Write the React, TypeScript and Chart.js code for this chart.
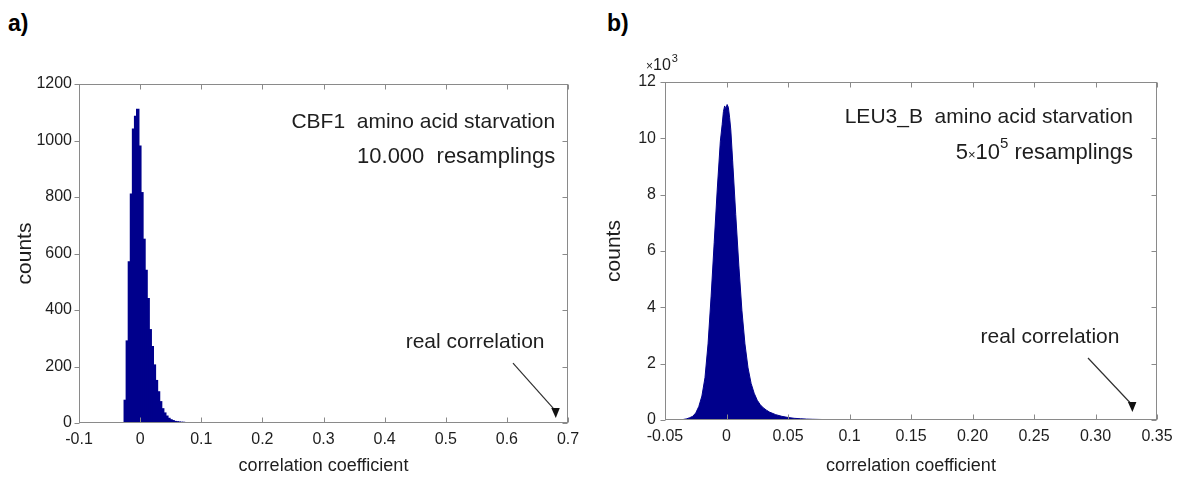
import React, { useEffect, useRef } from 'react';
import { Chart, registerables } from 'chart.js';

Chart.register(...registerables);

// ---------- Panel a) CBF1 ----------
const aBinCenters = [
  -0.0243, -0.0209, -0.0175, -0.0141, -0.0107, -0.0073, -0.0039, -0.0005, 0.0029, 0.0063,
  0.0097, 0.0131, 0.0165, 0.0199, 0.0233, 0.0267, 0.0301, 0.0335, 0.0369, 0.0403,
  0.0437, 0.0471, 0.0505, 0.0539, 0.0573, 0.0607, 0.0641, 0.0675, 0.0709, 0.0743,
  0.0777, 0.0879, 0.0981,
];
const aCounts = [
  80, 290, 570, 810, 1040, 1085, 1110, 980, 815, 650,
  540, 440, 330, 270, 205, 150, 110, 75, 50, 35,
  24, 16, 11, 8, 5, 4, 3, 2, 2, 1,
  1, 1, 1,
];
const aXTicks = [-0.1, 0, 0.1, 0.2, 0.3, 0.4, 0.5, 0.6, 0.7];
const aXTickLabels = ['-0.1', '0', '0.1', '0.2', '0.3', '0.4', '0.5', '0.6', '0.7'];
const aYTicks = [0, 200, 400, 600, 800, 1000, 1200];
const aYTickLabels = ['0', '200', '400', '600', '800', '1000', '1200'];
const aRealCorrelation = 0.68;

// ---------- Panel b) LEU3_B ----------
const bX = [
  -0.038, -0.035, -0.0325, -0.03, -0.0275, -0.025, -0.0225, -0.02, -0.0175, -0.015,
  -0.0125, -0.01, -0.0075, -0.005, -0.0035, -0.0025, -0.0015, -0.0005, 0.0005, 0.0015,
  0.0025, 0.0035, 0.005, 0.0075, 0.01, 0.0125, 0.015, 0.0175, 0.02, 0.0225,
  0.025, 0.0275, 0.03, 0.0325, 0.035, 0.04, 0.045, 0.05, 0.055, 0.06,
  0.065, 0.07, 0.08, 0.09, 0.1, 0.12, 0.15, 0.17, 0.2, 0.24, 0.25,
];
const bCounts = [
  0, 20, 40, 80, 130, 250, 480, 850, 1500, 2700,
  4400, 6300, 8200, 9900, 10500, 10950, 11150, 11050, 11200, 11100,
  10750, 10300, 9200, 7300, 5500, 3900, 2700, 1850, 1300, 950,
  700, 540, 430, 350, 280, 190, 130, 90, 60, 45,
  32, 25, 15, 10, 8, 6, 4, 3, 3, 2, 0,
];
const bXTicks = [-0.05, 0, 0.05, 0.1, 0.15, 0.2, 0.25, 0.3, 0.35];
const bXTickLabels = ['-0.05', '0', '0.05', '0.1', '0.15', '0.20', '0.25', '0.30', '0.35'];
const bYTicks = [0, 2000, 4000, 6000, 8000, 10000, 12000];
const bYTickLabels = ['0', '2', '4', '6', '8', '10', '12'];
const bRealCorrelation = 0.33;

// ---------- styling ----------
const FONT = '"Liberation Sans", Arial, sans-serif';
const NAVY = '#00008c';
const TEXT = '#1e1e1e';
const AXIS = '#8a8a8a';

type Seg = { text: string; size: number; dy?: number };
type Line = { x: number; y: number; segs: Seg[] };

interface PanelSpec {
  kind: 'bar' | 'line';
  xs: number[];
  ys: number[];
  xMin: number;
  xMax: number;
  yMax: number;
  xTicks: number[];
  xTickLabels: string[];
  yTicks: number[];
  yTickLabels: string[];
  yAxisWidth: number;
  xAxisHeight: number;
  padTop: number;
  padRight: number;
  yTitlePad: number;
  yTickPad: number;
  lines: Line[];
  realX: number;
  labelPos: { x: number; y: number };
  arrowFrom: { x: number; y: number };
  arrowTipY: number;
  exponent?: string;
}

function decorPlugin(p: PanelSpec) {
  return {
    id: 'decor',
    afterDraw(chart: any) {
      const { ctx, chartArea: a } = chart;
      const xs = chart.scales.x;
      const ys = chart.scales.y;
      ctx.save();
      // box + ticks
      ctx.strokeStyle = AXIS;
      ctx.lineWidth = 1;
      const L = Math.round(a.left) + 0.5;
      const R = Math.round(a.right) - 0.5;
      const T = Math.round(a.top) + 0.5;
      const B = Math.round(a.bottom) - 0.5;
      ctx.strokeRect(L, T, R - L, B - T);
      ctx.beginPath();
      p.xTicks.forEach((v) => {
        const px = Math.round(xs.getPixelForValue(v)) + 0.5;
        ctx.moveTo(px, B);
        ctx.lineTo(px, B - 5);
        ctx.moveTo(px, T);
        ctx.lineTo(px, T + 5);
      });
      p.yTicks.forEach((v) => {
        const py = Math.round(ys.getPixelForValue(v)) + 0.5;
        ctx.moveTo(L, py);
        ctx.lineTo(L - 5, py);
        ctx.moveTo(R, py);
        ctx.lineTo(R - 5, py);
      });
      ctx.stroke();

      ctx.fillStyle = TEXT;
      ctx.textBaseline = 'alphabetic';
      ctx.textAlign = 'left';
      // right-aligned annotation lines
      p.lines.forEach((ln) => {
        const right = xs.getPixelForValue(ln.x);
        const base = ys.getPixelForValue(ln.y);
        let total = 0;
        ln.segs.forEach((s) => {
          ctx.font = `${s.size}px ${FONT}`;
          total += ctx.measureText(s.text).width;
        });
        let cx = right - total;
        ln.segs.forEach((s) => {
          ctx.font = `${s.size}px ${FONT}`;
          ctx.fillText(s.text, cx, base + (s.dy || 0));
          cx += ctx.measureText(s.text).width;
        });
      });

      // "real correlation" label
      ctx.font = `21px ${FONT}`;
      ctx.textAlign = 'center';
      ctx.fillText('real correlation', xs.getPixelForValue(p.labelPos.x), ys.getPixelForValue(p.labelPos.y));

      // arrow
      const sx = xs.getPixelForValue(p.arrowFrom.x);
      const sy = ys.getPixelForValue(p.arrowFrom.y);
      const tx = xs.getPixelForValue(p.realX);
      const ty = ys.getPixelForValue(p.arrowTipY);
      ctx.strokeStyle = '#303030';
      ctx.lineWidth = 1.2;
      ctx.beginPath();
      ctx.moveTo(sx, sy);
      ctx.lineTo(tx - 2, ty - 9);
      ctx.stroke();
      ctx.fillStyle = '#111111';
      ctx.beginPath();
      ctx.moveTo(tx, ty);
      ctx.lineTo(tx - 4.5, ty - 10);
      ctx.lineTo(tx + 4, ty - 10);
      ctx.closePath();
      ctx.fill();

      // exponent above y axis
      if (p.exponent) {
        ctx.fillStyle = TEXT;
        ctx.textAlign = 'left';
        let ex = a.left - 19;
        const eb = a.top - 12;
        ctx.font = `12px ${FONT}`;
        ctx.fillText('×', ex, eb);
        ex += ctx.measureText('×').width;
        ctx.font = `16px ${FONT}`;
        ctx.fillText('10', ex, eb);
        ex += ctx.measureText('10').width + 1;
        ctx.font = `11px ${FONT}`;
        ctx.fillText(p.exponent, ex, eb - 8);
      }
      ctx.restore();
    },
  };
}

function buildConfig(p: PanelSpec): any {
  const points = p.xs.map((x, i) => ({ x, y: p.ys[i] }));
  const dataset: any =
    p.kind === 'bar'
      ? {
          data: points,
          backgroundColor: NAVY,
          borderWidth: 0,
          barPercentage: 1,
          categoryPercentage: 1,
          inflateAmount: 0.7,
        }
      : {
          data: points,
          backgroundColor: NAVY,
          borderColor: NAVY,
          borderWidth: 1,
          pointRadius: 0,
          tension: 0,
          fill: 'origin',
        };
  return {
    type: p.kind,
    data: { datasets: [dataset] },
    options: {
      responsive: false,
      animation: false,
      devicePixelRatio: 1,
      layout: { padding: { top: p.padTop, right: p.padRight, left: 0, bottom: 0 } },
      plugins: { legend: { display: false }, tooltip: { enabled: false } },
      scales: {
        x: {
          type: 'linear',
          min: p.xMin,
          max: p.xMax,
          offset: false,
          afterBuildTicks: (s: any) => {
            s.ticks = p.xTicks.map((v) => ({ value: v }));
          },
          afterFit: (s: any) => {
            s.height = p.xAxisHeight;
          },
          ticks: {
            callback: (_v: any, i: number) => p.xTickLabels[i],
            color: TEXT,
            font: { family: FONT, size: 16 },
            padding: 7,
            maxRotation: 0,
            autoSkip: false,
          },
          grid: { display: false, drawTicks: false },
          border: { display: false },
          title: {
            display: true,
            text: 'correlation coefficient',
            color: TEXT,
            font: { family: FONT, size: 18 },
            padding: { top: 0, bottom: 4 },
          },
        },
        y: {
          type: 'linear',
          min: 0,
          max: p.yMax,
          afterBuildTicks: (s: any) => {
            s.ticks = p.yTicks.map((v) => ({ value: v }));
          },
          afterFit: (s: any) => {
            s.width = p.yAxisWidth;
          },
          ticks: {
            callback: (_v: any, i: number) => p.yTickLabels[i],
            color: TEXT,
            font: { family: FONT, size: 16 },
            padding: p.yTickPad,
            autoSkip: false,
          },
          grid: { display: false, drawTicks: false },
          border: { display: false },
          title: {
            display: true,
            text: 'counts',
            color: TEXT,
            font: { family: FONT, size: 21 },
            padding: { top: p.yTitlePad, bottom: 0 },
          },
        },
      },
    },
    plugins: [decorPlugin(p)],
  };
}

const panelA: PanelSpec = {
  kind: 'bar',
  xs: aBinCenters,
  ys: aCounts,
  xMin: -0.1,
  xMax: 0.7,
  yMax: 1200,
  xTicks: aXTicks,
  xTickLabels: aXTickLabels,
  yTicks: aYTicks,
  yTickLabels: aYTickLabels,
  yAxisWidth: 79,
  xAxisHeight: 58,
  padTop: 84,
  padRight: 22,
  yTitlePad: 13,
  yTickPad: 7,
  lines: [
    { x: 0.679, y: 1044, segs: [{ text: 'CBF1  amino acid starvation', size: 21 }] },
    { x: 0.679, y: 920, segs: [{ text: '10.000  resamplings', size: 22 }] },
  ],
  realX: aRealCorrelation,
  labelPos: { x: 0.548, y: 265 },
  arrowFrom: { x: 0.61, y: 212 },
  arrowTipY: 18,
};

const panelB: PanelSpec = {
  kind: 'line',
  xs: bX,
  ys: bCounts,
  xMin: -0.05,
  xMax: 0.35,
  yMax: 12000,
  xTicks: bXTicks,
  xTickLabels: bXTickLabels,
  yTicks: bYTicks,
  yTickLabels: bYTickLabels,
  yAxisWidth: 75,
  xAxisHeight: 61,
  padTop: 82,
  padRight: 31,
  yTitlePad: 12,
  yTickPad: 9,
  lines: [
    { x: 0.3305, y: 10544, segs: [{ text: 'LEU3_B  amino acid starvation', size: 21 }] },
    {
      x: 0.3305,
      y: 9266,
      segs: [
        { text: '5', size: 22 },
        { text: '×', size: 13 },
        { text: '10', size: 22 },
        { text: '5', size: 15, dy: -11 },
        { text: ' resamplings', size: 22 },
      ],
    },
  ],
  realX: bRealCorrelation,
  labelPos: { x: 0.263, y: 2734 },
  arrowFrom: { x: 0.2939, y: 2201 },
  arrowTipY: 284,
  exponent: '3',
};

function Panel({ spec, left, width }: { spec: PanelSpec; left: number; width: number }) {
  const ref = useRef<HTMLCanvasElement>(null);
  useEffect(() => {
    const chart = new Chart(ref.current as HTMLCanvasElement, buildConfig(spec));
    return () => chart.destroy();
  }, [spec]);
  return (
    <canvas
      ref={ref}
      width={width}
      height={481}
      style={{ position: 'absolute', left, top: 0, width, height: 481 }}
    />
  );
}

const labelStyle: React.CSSProperties = {
  position: 'absolute',
  top: 10,
  fontFamily: FONT,
  fontWeight: 'bold',
  fontSize: 23,
  lineHeight: '26px',
  color: '#000',
};

export default function App() {
  return (
    <div
      style={{
        position: 'absolute',
        left: 0,
        top: 0,
        width: 1188,
        height: 481,
        background: '#fff',
        overflow: 'hidden',
      }}
    >
      <div style={{ ...labelStyle, left: 8 }}>a)</div>
      <div style={{ ...labelStyle, left: 607 }}>b)</div>
      <Panel spec={panelA} left={0} width={590} />
      <Panel spec={panelB} left={590} width={598} />
    </div>
  );
}
